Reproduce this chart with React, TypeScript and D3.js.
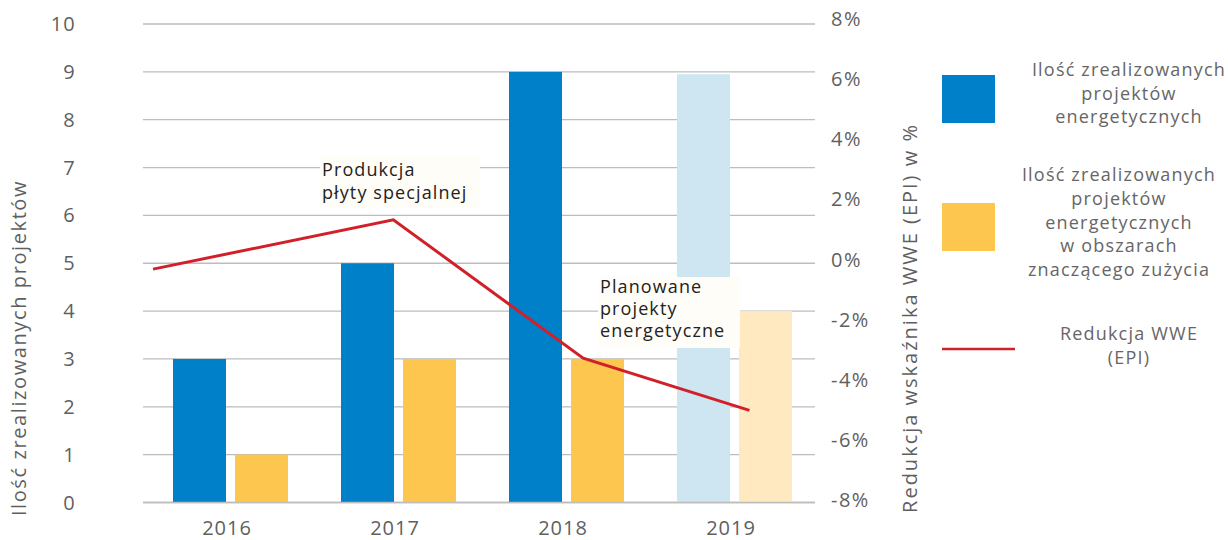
import * as d3 from "d3";

const years = ["2016", "2017", "2018", "2019"];
const realized = [3, 5, 9, 8.95];
const significant = [1, 3, 3, 4];
const planned = [false, false, false, true];
// line positions on a fractional year axis, and EPI reduction in %
const lineYears = [2016.06, 2017.49, 2018.62, 2019.61];
const epi = [-0.32, 1.32, -3.28, -5.02];
const leftTicks = d3.range(0, 11);
const rightTicks = [8, 6, 4, 2, 0, -2, -4, -6, -8];

const legendBlue = ["Ilość zrealizowanych", "projektów", "energetycznych"];
const legendYellow = [
  "Ilość zrealizowanych",
  "projektów",
  "energetycznych",
  "w obszarach",
  "znaczącego zużycia",
];
const legendRed = ["Redukcja WWE", "(EPI)"];
const note1 = ["Produkcja", "płyty specjalnej"];
const note2 = ["Planowane", "projekty", "energetyczne"];

const W = 1228;
const H = 540;
const left = 143;
const right = 815;
const top = 24;
const bottom = 502.5;

const BLUE = "#0080C9";
const YELLOW = "#FDC64F";
const BLUE_L = "#CEE5F2";
const YELLOW_L = "#FFE9C1";
const RED = "#D1202A";
const FONT = "'Open Sans', 'Noto Sans', sans-serif";
const GREY = "#5f5f5f";

export default function App() {
  const x0 = d3.scaleBand<string>().domain(years).range([left, right]);
  const x1 = d3
    .scaleBand<string>()
    .domain(["a", "b"])
    .range([30, 145])
    .paddingInner(0.145);
  const xl = d3.scaleLinear().domain([2016, 2020]).range([left, right]);
  const y = d3.scaleLinear().domain([0, 10]).range([bottom, top]);
  const y2 = d3.scaleLinear().domain([-8, 8]).range([500, 19]);

  const line = d3
    .line<number>()
    .x((_, i) => xl(lineYears[i]))
    .y((d) => y2(d));

  return (
    <svg
      width={W}
      height={H}
      style={{ position: "absolute", left: 0, top: 0, fontFamily: FONT }}
    >
      <rect width={W} height={H} fill="#fff" />
      {leftTicks.map((t) => (
        <g key={t}>
          <line
            x1={left}
            x2={right}
            y1={y(t)}
            y2={y(t)}
            stroke="#bdbdbd"
            strokeWidth={1.3}
          />
          <text
            x={76}
            y={y(t)}
            dy="0.35em"
            textAnchor="end"
            fontSize={20}
            letterSpacing={1.2}
            fill={GREY}
          >
            {t}
          </text>
        </g>
      ))}
      {rightTicks.map((t) => (
        <text
          key={t}
          x={831}
          y={y2(t)}
          dy="0.35em"
          fontSize={20}
          letterSpacing={1.5}
          fill={GREY}
        >
          {t + "%"}
        </text>
      ))}
      {years.map((yr, i) => {
        const bx = x0(yr) ?? 0;
        return (
          <g key={yr}>
            <rect
              x={bx + (x1("a") ?? 0)}
              width={x1.bandwidth()}
              y={y(realized[i])}
              height={bottom - y(realized[i])}
              fill={planned[i] ? BLUE_L : BLUE}
            />
            <rect
              x={bx + (x1("b") ?? 0)}
              width={x1.bandwidth()}
              y={y(significant[i])}
              height={bottom - y(significant[i])}
              fill={planned[i] ? YELLOW_L : YELLOW}
            />
            <text
              x={bx + x0.bandwidth() / 2}
              y={528}
              dy="0.35em"
              textAnchor="middle"
              fontSize={20}
              letterSpacing={1}
              fill={GREY}
            >
              {yr}
            </text>
          </g>
        );
      })}
      <line
        x1={left}
        x2={right}
        y1={bottom}
        y2={bottom}
        stroke="#bdbdbd"
        strokeWidth={1.5}
      />
      <path d={line(epi) ?? ""} fill="none" stroke={RED} strokeWidth={3} />

      <rect x={320} y={155} width={160} height={52} fill="#FFFDF7" />
      {note1.map((s, i) => (
        <text key={s} x={322} y={170 + i * 23} dy="0.35em" fontSize={18} letterSpacing={1.1} fill="#222">
          {s}
        </text>
      ))}
      <rect x={598} y={277} width={142} height={71} fill="#FFFDF7" />
      {note2.map((s, i) => (
        <text key={s} x={600} y={287 + i * 22} dy="0.35em" fontSize={18} letterSpacing={1.1} fill="#222">
          {s}
        </text>
      ))}

      <text
        transform={`translate(19,${348}) rotate(-90)`}
        textAnchor="middle"
        dy="0.35em"
        fontSize={20}
        letterSpacing={1.6}
        fill={GREY}
      >
        Ilość zrealizowanych projektów
      </text>
      <text
        transform={`translate(910,${318}) rotate(-90)`}
        textAnchor="middle"
        dy="0.35em"
        fontSize={20}
        letterSpacing={2}
        fill={GREY}
      >
        Redukcja wskaźnika WWE (EPI) w %
      </text>

      <rect x={942} y={75} width={53} height={48} fill={BLUE} />
      {legendBlue.map((s, i) => (
        <text key={i} x={1129} y={70 + i * 23.5} dy="0.35em" textAnchor="middle" fontSize={18} letterSpacing={1.2} fill="#666">
          {s}
        </text>
      ))}
      <rect x={942} y={203} width={53} height={48} fill={YELLOW} />
      {legendYellow.map((s, i) => (
        <text key={i} x={1119} y={175 + i * 23.7} dy="0.35em" textAnchor="middle" fontSize={18} letterSpacing={1.2} fill="#666">
          {s}
        </text>
      ))}
      <line x1={942} x2={1015} y1={349} y2={349} stroke={RED} strokeWidth={2.5} />
      {legendRed.map((s, i) => (
        <text key={i} x={1129} y={334 + i * 23.5} dy="0.35em" textAnchor="middle" fontSize={18} letterSpacing={1.2} fill="#666">
          {s}
        </text>
      ))}
    </svg>
  );
}
